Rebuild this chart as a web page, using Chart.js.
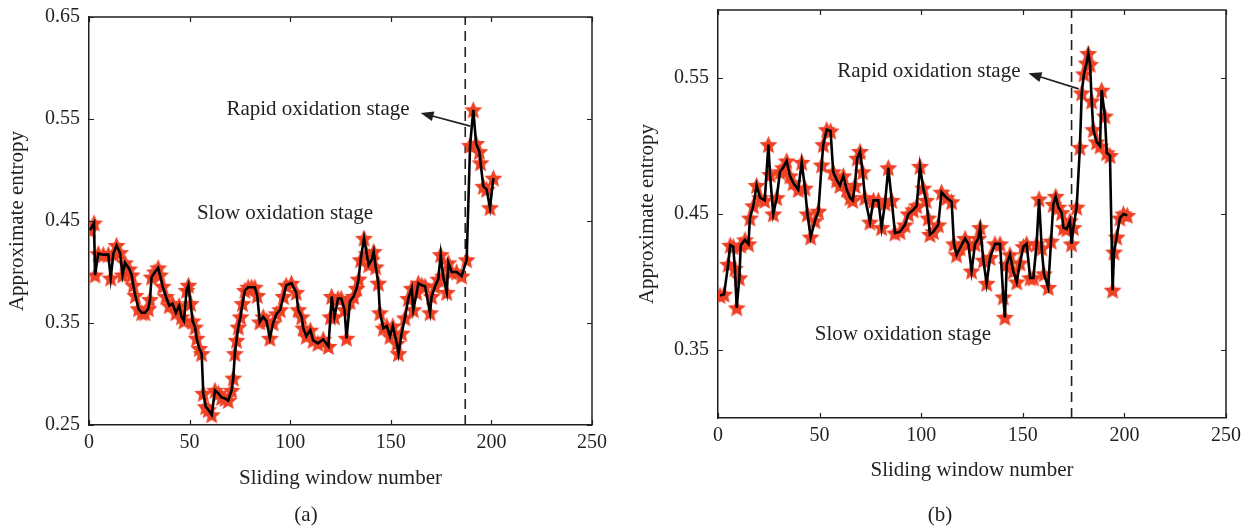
<!DOCTYPE html>
<html><head><meta charset="utf-8">
<script src="https://cdn.jsdelivr.net/npm/chart.js@4.4.0/dist/chart.umd.min.js"></script>
<style>
html,body{margin:0;padding:0;background:#fff;}
#wrap{position:relative;width:1254px;height:529px;overflow:hidden;background:#fff;}
canvas{position:absolute;top:0;}
</style></head><body>
<div id="wrap">
<canvas id="ca" width="620" height="529" style="left:0px"></canvas>
<canvas id="cb" width="634" height="529" style="left:620px"></canvas>
</div>
<script>
// ---- tick labels ----
const xTicks = [0, 50, 100, 150, 200, 250];
const yTicksA = [0.25, 0.35, 0.45, 0.55, 0.65];
const yTicksB = [0.35, 0.45, 0.55];

// ---- panel (a) series ----
const xA = [0.5,2.5,3,4.6,7.1,9.6,10.8,12.1,13.7,15.4,16.7,17.9,20,21.2,22,23,24.6,26.2,27.8,29.5,30.3,31.1,32.8,34.4,35.3,36.6,38.2,39.9,41.5,43.2,44.8,46,47.2,48.5,49.4,50.5,51.5,52.7,53.5,54.8,56,56.8,58,59.3,61,62.6,64.3,65.9,67.6,69.2,70.9,71.7,72.5,73.3,74.2,75.3,76.3,77.5,79.1,80.8,82.4,83.6,84.9,86.6,88.2,89.9,91.5,93.2,95,96.7,98,100.6,103,104,105.7,106.5,108,110,111.4,113.8,116.4,119,120,120.6,122,123.8,125.4,127,128,129.7,131.5,133,134,135,136.7,138,139,140.5,141.5,142.5,143.8,144.6,146.3,148,149.6,151,153,153.8,155.4,157,158.7,160.4,161.2,162.9,163.7,165.4,167,169.5,170.3,172,173.6,174.8,176,177.8,178.6,180.3,182.7,185.2,187.7,189.4,191,192.4,194,194.6,196,197.6,199.3,201];
const yA = [0.441,0.448,0.397,0.418,0.417,0.417,0.394,0.418,0.426,0.419,0.397,0.409,0.403,0.397,0.387,0.377,0.364,0.36,0.36,0.364,0.373,0.395,0.40,0.404,0.397,0.386,0.376,0.367,0.369,0.36,0.367,0.356,0.352,0.382,0.387,0.369,0.352,0.346,0.335,0.325,0.32,0.281,0.268,0.265,0.26,0.284,0.281,0.277,0.276,0.274,0.284,0.296,0.32,0.333,0.346,0.356,0.369,0.382,0.385,0.385,0.385,0.377,0.351,0.356,0.352,0.335,0.35,0.359,0.363,0.376,0.387,0.389,0.38,0.363,0.356,0.345,0.337,0.343,0.333,0.33,0.334,0.327,0.356,0.376,0.356,0.374,0.374,0.363,0.335,0.371,0.376,0.384,0.393,0.412,0.433,0.418,0.407,0.412,0.42,0.405,0.389,0.36,0.345,0.347,0.337,0.347,0.33,0.32,0.34,0.355,0.374,0.384,0.363,0.38,0.389,0.387,0.386,0.36,0.376,0.386,0.393,0.417,0.396,0.38,0.409,0.40,0.40,0.396,0.412,0.524,0.559,0.526,0.518,0.507,0.484,0.481,0.463,0.492];

// ---- panel (b) series ----
const xB = [1,3,5,6,7.5,8.3,9.2,10.5,11.2,13.3,15,15.7,17.4,19,20.7,23,24.8,25.6,27.2,28.9,30.5,32,33.8,35.4,37,39.5,41.2,42.8,44,45.6,47.7,49.4,51,51.8,53.5,55.4,56.7,58.4,60,61.7,63.3,65,66.3,67.4,68.5,69.9,71.2,72.3,74.8,76.5,78.9,80.5,82.2,83.8,85.5,87.1,89.6,92,93.7,96.1,97.8,99.4,101,102.4,103.5,104.3,106,108.4,110,112.5,115,116.1,117.4,119.1,121.6,123.2,124.8,126.5,128.1,129,130.6,132.2,133.9,136.3,138.8,140.4,141.2,142.1,143.7,145.3,147,148.6,150.3,151.9,153.6,155.2,156.8,158,159.3,160.4,162.5,163.9,165,166.2,167.5,169.1,170,171.6,173.2,174,174.9,176.5,178.1,179,180.1,181.4,182.2,183.1,183.9,184.7,186.3,188,188.8,190.4,191.3,192.9,194.2,194.9,196.2,197.8,199.5,201.4];
const yB = [0.39,0.391,0.413,0.427,0.426,0.41,0.381,0.403,0.427,0.431,0.428,0.447,0.456,0.471,0.462,0.46,0.501,0.479,0.45,0.462,0.481,0.484,0.489,0.478,0.473,0.468,0.488,0.469,0.45,0.433,0.445,0.452,0.486,0.501,0.512,0.511,0.481,0.475,0.471,0.478,0.468,0.462,0.46,0.471,0.491,0.496,0.481,0.462,0.444,0.46,0.46,0.44,0.458,0.484,0.46,0.436,0.437,0.442,0.45,0.453,0.456,0.485,0.469,0.46,0.447,0.435,0.437,0.442,0.466,0.462,0.459,0.428,0.42,0.425,0.432,0.428,0.408,0.428,0.432,0.44,0.416,0.399,0.418,0.428,0.428,0.389,0.374,0.413,0.42,0.408,0.40,0.414,0.426,0.428,0.403,0.403,0.428,0.461,0.425,0.406,0.396,0.43,0.457,0.463,0.455,0.451,0.44,0.439,0.445,0.428,0.44,0.455,0.499,0.539,0.553,0.561,0.568,0.56,0.533,0.512,0.503,0.50,0.541,0.522,0.495,0.493,0.394,0.422,0.433,0.447,0.45,0.449];

// stage boundaries (sliding window number)
const stageA = 187;
const stageB = 174;

const FONT = '"Liberation Serif", "Times New Roman", serif';
const INK = '#231f20';
const STAR = '#ee4125';

function makeStar(r, color) {
  const s = Math.ceil(r * 2 + 2);
  const c = document.createElement('canvas');
  c.width = s; c.height = s;
  const g = c.getContext('2d');
  g.beginPath();
  for (let i = 0; i < 10; i++) {
    const rad = i % 2 === 0 ? r : r * 0.46;
    const a = -Math.PI / 2 + i * Math.PI / 5;
    const px = s / 2 + rad * Math.cos(a), py = s / 2 + rad * Math.sin(a) + 0.8;
    if (i === 0) g.moveTo(px, py); else g.lineTo(px, py);
  }
  g.closePath();
  g.fillStyle = color;
  g.fill();
  return c;
}
const starImg = makeStar(9.5, STAR);

const decorPlugin = {
  id: 'decor',
  afterDraw(chart) {
    const o = chart.options.plugins.decor;
    const ctx = chart.ctx, a = chart.chartArea;
    const xs = chart.scales.x, ys = chart.scales.y;
    ctx.save();
    // frame top/right
    ctx.strokeStyle = INK; ctx.lineWidth = 1.5;
    ctx.beginPath();
    ctx.moveTo(a.left, a.top); ctx.lineTo(a.right, a.top); ctx.lineTo(a.right, a.bottom);
    ctx.stroke();
    // inward ticks
    ctx.lineWidth = 1.2;
    const tl = 5;
    ctx.beginPath();
    xs.ticks.forEach(t => {
      const p = Math.round(xs.getPixelForValue(t.value)) + 0.5;
      ctx.moveTo(p, a.bottom); ctx.lineTo(p, a.bottom - tl);
      ctx.moveTo(p, a.top); ctx.lineTo(p, a.top + tl);
    });
    ys.ticks.forEach(t => {
      const p = Math.round(ys.getPixelForValue(t.value)) + 0.5;
      ctx.moveTo(a.left, p); ctx.lineTo(a.left + tl, p);
      ctx.moveTo(a.right, p); ctx.lineTo(a.right - tl, p);
    });
    ctx.stroke();
    // annotation texts
    ctx.fillStyle = INK;
    ctx.font = '21px ' + FONT;
    ctx.textAlign = 'center'; ctx.textBaseline = 'middle';
    o.texts.forEach(t => {
      ctx.fillText(t.text, xs.getPixelForValue(t.x), ys.getPixelForValue(t.y));
    });
    // arrow
    const ar = o.arrow;
    const x1 = xs.getPixelForValue(ar.from[0]), y1 = ys.getPixelForValue(ar.from[1]);
    const x2 = xs.getPixelForValue(ar.to[0]), y2 = ys.getPixelForValue(ar.to[1]);
    const ang = Math.atan2(y2 - y1, x2 - x1);
    const hl = 13, hw = 5;
    ctx.strokeStyle = INK; ctx.lineWidth = 1.6;
    ctx.beginPath();
    ctx.moveTo(x1, y1);
    ctx.lineTo(x2 - Math.cos(ang) * hl * 0.8, y2 - Math.sin(ang) * hl * 0.8);
    ctx.stroke();
    ctx.beginPath();
    ctx.moveTo(x2, y2);
    ctx.lineTo(x2 - Math.cos(ang) * hl - Math.sin(ang) * hw, y2 - Math.sin(ang) * hl + Math.cos(ang) * hw);
    ctx.lineTo(x2 - Math.cos(ang) * hl + Math.sin(ang) * hw, y2 - Math.sin(ang) * hl - Math.cos(ang) * hw);
    ctx.closePath();
    ctx.fill();
    // caption
    ctx.font = '21px ' + FONT;
    ctx.fillText(o.caption.text, o.caption.px, o.caption.py);
    ctx.restore();
  }
};

function build(id, c) {
  const pts = c.xs.map((x, i) => ({ x: x, y: c.ys[i] }));
  return new Chart(document.getElementById(id), {
    type: 'scatter',
    data: {
      datasets: [
        { data: pts, showLine: true, borderColor: '#000', borderWidth: 2.6, pointRadius: 0, order: 0 },
        { data: pts, showLine: false, pointStyle: starImg, pointRadius: 9, order: 1 },
        { data: [{ x: c.stage, y: c.ymin }, { x: c.stage, y: c.ymax }], showLine: true, borderColor: INK,
          borderWidth: 1.6, borderDash: [10, 6], pointRadius: 0, order: 2 }
      ]
    },
    options: {
      responsive: false, animation: false, devicePixelRatio: 1,
      layout: { padding: { top: c.padTop, right: 28, bottom: 0, left: 0 } },
      plugins: { legend: { display: false }, tooltip: { enabled: false }, decor: c.decor },
      scales: {
        x: {
          type: 'linear', min: 0, max: 250,
          afterBuildTicks: s => { s.ticks = xTicks.map(v => ({ value: v })); },
          afterFit: s => { s.height = c.xh; s.paddingLeft = 0; s.paddingRight = 0; },
          grid: { display: false, drawTicks: false },
          border: { display: true, color: INK, width: 1.5 },
          ticks: { padding: 6, color: INK, maxRotation: 0, font: { family: FONT, size: 20 }, callback: v => String(v) },
          title: { display: true, text: 'Sliding window number', color: INK, font: { family: FONT, size: 21 }, padding: { top: 0, bottom: c.xtb } }
        },
        y: {
          type: 'linear', min: c.ymin, max: c.ymax,
          afterBuildTicks: s => { s.ticks = c.yTicks.map(v => ({ value: v })); },
          afterFit: s => { s.width = c.yw; s.paddingTop = 0; s.paddingBottom = 0; },
          grid: { display: false, drawTicks: false },
          border: { display: true, color: INK, width: 1.5 },
          ticks: { padding: 9, color: INK, font: { family: FONT, size: 20 }, callback: v => Number(v).toFixed(2) },
          title: { display: true, text: 'Approximate entropy', color: INK, font: { family: FONT, size: 21 }, padding: { top: c.ytp, bottom: 0 } }
        }
      }
    },
    plugins: [decorPlugin]
  });
}

build('ca', {
  xs: xA, ys: yA, stage: stageA, ymin: 0.25, ymax: 0.65, yTicks: yTicksA,
  padTop: 17, xh: 104, yw: 89, xtb: 38, ytp: 5,
  decor: {
    texts: [
      { text: 'Rapid oxidation stage', x: 113.8, y: 0.559 },
      { text: 'Slow oxidation stage', x: 97.4, y: 0.457 }
    ],
    arrow: { from: [189.5, 0.543], to: [164.8, 0.556] },
    caption: { text: '(a)', px: 306, py: 515 }
  }
});

build('cb', {
  xs: xB, ys: yB, stage: stageB, ymin: 0.30, ymax: 0.60, yTicks: yTicksB,
  padTop: 8, xh: 111, yw: 98, xtb: 46, ytp: 15,
  decor: {
    texts: [
      { text: 'Rapid oxidation stage', x: 103.8, y: 0.555 },
      { text: 'Slow oxidation stage', x: 91, y: 0.3615 }
    ],
    arrow: { from: [177.5, 0.542], to: [152.8, 0.5535] },
    caption: { text: '(b)', px: 320, py: 515 }
  }
});
</script>
</body></html>
